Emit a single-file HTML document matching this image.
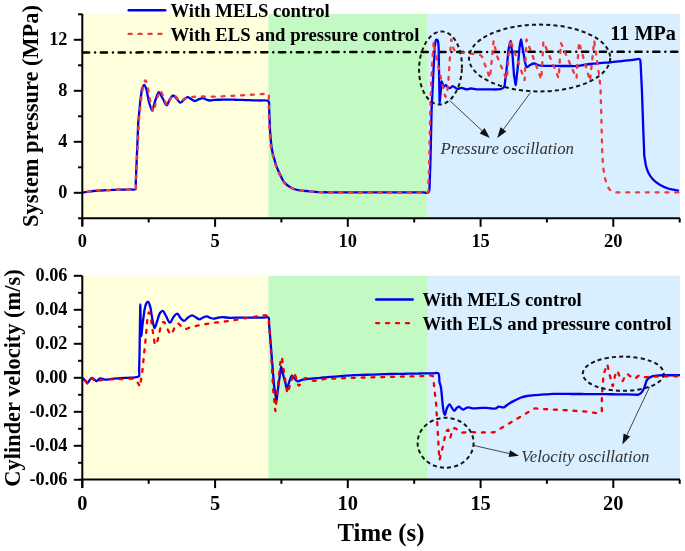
<!DOCTYPE html><html><head><meta charset="utf-8"><style>html,body{margin:0;padding:0;background:#fff;width:685px;height:551px;overflow:hidden}svg{display:block;will-change:transform}text{font-family:"Liberation Serif",serif}</style></head><body>
<svg width="685" height="551" viewBox="0 0 685 551">
<rect x="82.3" y="13.9" width="186.09999999999997" height="204.4" fill="#FFFFDC"/>
<rect x="268.4" y="13.9" width="159.40000000000003" height="204.4" fill="#C3FAC3"/>
<rect x="427.8" y="13.9" width="252.2" height="204.4" fill="#D9EEFE"/>
<rect x="82.3" y="275.7" width="186.09999999999997" height="203.90000000000003" fill="#FFFFDC"/>
<rect x="268.4" y="275.7" width="159.40000000000003" height="203.90000000000003" fill="#C3FAC3"/>
<rect x="427.8" y="275.7" width="252.2" height="203.90000000000003" fill="#D9EEFE"/>
<line x1="83.0" y1="52.45" x2="680" y2="51.65" stroke="#000" stroke-width="2.5" stroke-linecap="round" stroke-dasharray="6.2 5.9 0.01 5.71"/>
<path d="M82.30,192.60 C83.58,192.38 87.70,191.59 90.00,191.30 C91.84,191.07 93.33,191.03 95.00,190.90 C96.67,190.77 98.33,190.61 100.00,190.50 C101.67,190.39 103.33,190.34 105.00,190.27 C106.67,190.19 108.33,190.11 110.00,190.03 C111.67,189.96 113.32,189.86 115.00,189.80 C116.70,189.74 118.42,189.72 120.12,189.68 C121.83,189.63 123.54,189.59 125.25,189.55 C126.96,189.51 128.67,189.47 130.38,189.43 C132.08,189.38 134.57,190.21 135.50,189.30 C136.51,188.31 135.67,185.25 135.75,183.23 C135.83,181.20 135.92,179.18 136.00,177.15 C136.08,175.12 136.17,173.10 136.25,171.07 C136.33,169.05 136.42,166.97 136.50,165.00 C136.58,163.15 136.65,161.40 136.72,159.60 C136.80,157.80 136.87,156.00 136.95,154.20 C137.03,152.40 137.10,150.60 137.18,148.80 C137.25,147.00 137.33,145.20 137.40,143.40 C137.48,141.60 137.55,139.80 137.62,138.00 C137.70,136.20 137.78,134.40 137.85,132.60 C137.93,130.80 138.00,129.00 138.08,127.20 C138.15,125.40 138.18,123.60 138.30,121.80 C138.43,119.99 138.65,118.17 138.83,116.35 C139.00,114.53 139.18,112.72 139.35,110.90 C139.53,109.08 139.70,107.27 139.88,105.45 C140.05,103.63 140.18,101.82 140.40,100.00 C140.62,98.17 140.93,96.33 141.20,94.50 C141.47,92.67 141.43,90.64 142.00,89.00 C142.52,87.51 143.58,84.96 144.30,85.00 C145.09,85.04 145.93,88.23 146.50,90.00 C147.10,91.88 147.33,94.00 147.75,96.00 C148.17,98.00 148.38,99.85 149.00,102.00 C149.76,104.64 151.34,110.62 152.20,110.60 C152.87,110.58 153.30,107.07 153.85,105.30 C154.40,103.53 154.80,101.92 155.50,100.00 C156.37,97.63 157.56,92.30 158.80,92.20 C159.92,92.11 161.26,95.94 162.50,98.00 C163.86,100.28 165.31,105.31 166.60,105.30 C167.80,105.29 168.77,100.73 170.00,99.00 C171.00,97.59 172.06,95.55 173.20,95.50 C174.39,95.45 175.79,97.79 177.00,99.00 C178.19,100.19 179.22,102.64 180.40,102.70 C181.56,102.76 182.75,100.43 184.00,99.50 C185.19,98.61 186.49,97.23 187.70,97.20 C188.82,97.17 189.85,98.39 191.00,99.00 C192.24,99.66 193.57,100.96 194.90,101.00 C196.24,101.04 197.64,99.69 199.00,99.20 C200.28,98.74 201.60,98.02 202.80,98.10 C203.93,98.17 204.86,99.11 206.00,99.50 C207.24,99.92 208.58,100.42 210.00,100.50 C211.57,100.58 213.33,99.93 215.00,99.80 C216.66,99.67 218.33,99.76 220.00,99.73 C221.67,99.71 223.33,99.69 225.00,99.67 C226.67,99.64 228.33,99.59 230.00,99.60 C231.67,99.61 233.33,99.70 235.00,99.75 C236.67,99.80 238.33,99.85 240.00,99.90 C241.67,99.95 243.33,100.00 245.00,100.05 C246.67,100.10 248.33,100.15 250.00,100.20 C251.67,100.25 253.33,100.30 255.00,100.35 C256.67,100.40 258.15,100.45 260.00,100.50 C262.31,100.56 266.44,100.05 267.80,100.70 C268.44,101.01 268.64,101.34 268.90,102.00 C269.40,103.29 269.07,106.33 269.15,108.50 C269.23,110.67 269.32,112.98 269.40,115.00 C269.47,116.78 269.53,118.33 269.60,120.00 C269.67,121.67 269.73,123.33 269.80,125.00 C269.87,126.67 269.89,128.26 270.00,130.00 C270.12,131.91 270.33,134.00 270.50,136.00 C270.67,138.00 270.78,139.86 271.00,142.00 C271.26,144.48 271.50,147.35 272.00,150.00 C272.50,152.68 273.31,155.43 274.00,158.00 C274.65,160.42 275.28,162.88 276.00,165.00 C276.62,166.82 277.24,168.23 278.00,170.00 C278.88,172.04 279.96,174.44 281.00,176.50 C281.97,178.43 282.78,180.42 284.00,182.00 C285.14,183.49 286.44,184.68 288.00,185.80 C289.73,187.05 291.95,188.23 294.00,189.00 C295.95,189.73 297.99,190.07 300.00,190.40 C301.99,190.73 303.92,190.81 306.00,191.00 C308.24,191.21 310.67,191.40 313.00,191.60 C315.33,191.80 317.86,192.10 320.00,192.20 C321.80,192.29 323.33,192.23 325.00,192.25 C326.67,192.27 328.33,192.28 330.00,192.30 C331.67,192.32 333.33,192.33 335.00,192.35 C336.67,192.37 338.32,192.39 340.00,192.40 C341.72,192.41 343.47,192.40 345.21,192.40 C346.94,192.40 348.68,192.40 350.41,192.40 C352.15,192.40 353.88,192.40 355.62,192.40 C357.35,192.40 359.09,192.40 360.82,192.40 C362.56,192.40 364.29,192.40 366.03,192.40 C367.76,192.40 369.50,192.40 371.24,192.40 C372.97,192.40 374.71,192.40 376.44,192.40 C378.18,192.40 379.91,192.40 381.65,192.40 C383.38,192.40 385.12,192.40 386.85,192.40 C388.59,192.40 390.32,192.40 392.06,192.40 C393.79,192.40 395.53,192.40 397.26,192.40 C399.00,192.40 400.74,192.40 402.47,192.40 C404.21,192.40 405.94,192.40 407.68,192.40 C409.41,192.40 411.15,192.40 412.88,192.40 C414.62,192.40 416.35,192.40 418.09,192.40 C419.82,192.40 421.56,192.40 423.29,192.40 C425.03,192.40 427.41,193.34 428.50,192.40 C429.80,191.28 429.39,187.23 429.60,185.00 C429.77,183.18 429.72,181.67 429.78,180.00 C429.84,178.33 429.90,176.67 429.96,175.00 C430.02,173.33 430.08,171.67 430.14,170.00 C430.20,168.33 430.26,166.67 430.32,165.00 C430.38,163.33 430.45,161.67 430.50,160.00 C430.55,158.33 430.57,156.67 430.61,155.00 C430.65,153.33 430.68,151.67 430.72,150.00 C430.76,148.33 430.79,146.67 430.83,145.00 C430.87,143.33 430.90,141.67 430.94,140.00 C430.98,138.33 431.01,136.67 431.05,135.00 C431.09,133.33 431.12,131.67 431.16,130.00 C431.20,128.33 431.23,126.67 431.27,125.00 C431.31,123.33 431.34,121.67 431.38,120.00 C431.42,118.33 431.45,116.67 431.49,115.00 C431.53,113.33 431.54,111.67 431.60,110.00 C431.66,108.33 431.76,106.67 431.84,105.00 C431.92,103.33 432.00,101.67 432.08,100.00 C432.15,98.33 432.23,96.67 432.31,95.00 C432.39,93.33 432.47,91.67 432.55,90.00 C432.63,88.33 432.71,86.67 432.79,85.00 C432.87,83.33 432.95,81.67 433.02,80.00 C433.10,78.33 433.18,76.67 433.26,75.00 C433.34,73.33 433.41,71.67 433.50,70.00 C433.59,68.33 433.70,66.67 433.80,65.00 C433.90,63.33 434.00,61.67 434.10,60.00 C434.20,58.33 434.30,56.67 434.40,55.00 C434.50,53.33 434.60,51.67 434.70,50.00 C434.80,48.33 434.76,46.67 435.00,45.00 C435.25,43.27 435.48,40.19 436.20,39.80 C436.58,39.59 437.23,39.85 437.60,40.30 C438.38,41.25 438.42,44.86 438.60,47.00 C438.76,48.94 438.67,50.73 438.70,52.60 C438.73,54.47 438.77,56.33 438.80,58.20 C438.83,60.07 438.87,61.93 438.90,63.80 C438.93,65.67 438.97,67.53 439.00,69.40 C439.03,71.27 439.07,73.13 439.10,75.00 C439.13,76.87 439.17,78.73 439.20,80.60 C439.23,82.47 439.27,84.33 439.30,86.20 C439.33,88.07 439.37,89.93 439.40,91.80 C439.43,93.67 439.47,95.53 439.50,97.40 C439.53,99.27 439.49,103.00 439.60,103.00 C439.70,103.00 439.93,99.67 440.10,98.00 C440.27,96.33 440.43,94.73 440.60,93.00 C440.78,91.15 440.97,89.17 441.15,87.25 C441.33,85.33 441.23,81.57 441.70,81.50 C442.16,81.43 442.98,86.33 443.90,86.60 C444.52,86.78 445.34,85.11 446.00,85.20 C446.72,85.30 447.21,87.04 448.00,87.50 C448.70,87.91 449.67,88.19 450.40,88.00 C451.18,87.80 451.61,86.29 452.50,86.20 C453.76,86.07 455.81,88.71 457.40,88.90 C458.77,89.06 459.98,87.78 461.40,87.80 C463.02,87.82 464.93,89.32 466.60,89.40 C468.12,89.47 469.46,88.53 471.00,88.50 C472.68,88.47 474.41,89.24 476.30,89.40 C478.43,89.58 480.87,89.40 483.15,89.40 C485.43,89.40 487.68,89.40 490.00,89.40 C492.39,89.40 495.11,89.62 497.30,89.40 C499.13,89.22 501.07,89.04 502.30,88.40 C503.20,87.93 503.83,87.41 504.30,86.50 C504.99,85.17 504.87,82.67 505.15,80.75 C505.43,78.83 505.77,76.85 506.00,75.00 C506.21,73.28 506.33,71.67 506.50,70.00 C506.67,68.33 506.83,66.67 507.00,65.00 C507.17,63.33 507.33,61.67 507.50,60.00 C507.67,58.33 507.83,56.67 508.00,55.00 C508.17,53.33 508.19,51.90 508.50,50.00 C508.93,47.43 510.08,40.98 510.60,41.00 C511.05,41.02 511.23,45.67 511.55,48.00 C511.87,50.33 512.27,52.86 512.50,55.00 C512.69,56.80 512.75,58.33 512.88,60.00 C513.00,61.67 513.12,63.33 513.25,65.00 C513.38,66.67 513.50,68.33 513.62,70.00 C513.75,71.67 513.80,73.33 514.00,75.00 C514.20,76.71 514.57,78.43 514.85,80.15 C515.13,81.87 515.46,85.31 515.70,85.30 C515.94,85.29 516.10,81.90 516.30,80.20 C516.50,78.50 516.70,76.80 516.90,75.10 C517.10,73.40 517.32,71.73 517.50,70.00 C517.69,68.20 517.83,66.33 518.00,64.50 C518.17,62.67 518.33,60.83 518.50,59.00 C518.67,57.17 518.83,55.33 519.00,53.50 C519.17,51.67 519.23,50.03 519.50,48.00 C519.84,45.47 520.54,39.50 521.00,39.50 C521.36,39.50 521.67,43.00 522.00,44.75 C522.33,46.50 522.68,48.19 523.00,50.00 C523.34,51.93 523.67,54.00 524.00,56.00 C524.33,58.00 524.51,60.10 525.00,62.00 C525.46,63.79 525.84,66.78 526.80,67.10 C527.61,67.37 528.84,65.59 530.00,65.00 C531.23,64.38 532.67,63.50 534.00,63.50 C535.33,63.50 536.72,64.63 538.00,65.00 C539.14,65.33 540.02,65.56 541.30,65.70 C543.04,65.90 545.46,65.77 547.53,65.80 C549.61,65.83 551.69,65.87 553.77,65.90 C555.84,65.93 557.97,65.98 560.00,66.00 C561.93,66.02 563.78,66.00 565.67,66.00 C567.56,66.00 569.44,66.00 571.33,66.00 C573.22,66.00 575.05,66.15 577.00,66.00 C579.10,65.84 581.33,65.33 583.50,65.00 C585.67,64.67 587.97,64.24 590.00,64.00 C591.77,63.79 593.33,63.72 595.00,63.58 C596.67,63.43 598.33,63.29 600.00,63.15 C601.67,63.01 603.33,62.87 605.00,62.72 C606.67,62.58 608.26,62.47 610.00,62.30 C611.90,62.12 613.96,61.87 615.94,61.66 C617.92,61.45 619.90,61.23 621.88,61.02 C623.86,60.81 625.84,60.59 627.82,60.38 C629.80,60.17 631.78,59.95 633.76,59.74 C635.74,59.53 638.58,58.27 639.70,59.10 C640.72,59.86 640.41,62.34 640.60,64.00 C640.80,65.70 640.77,67.47 640.86,69.20 C640.95,70.93 641.03,72.67 641.12,74.40 C641.21,76.13 641.29,77.87 641.38,79.60 C641.47,81.33 641.55,83.07 641.64,84.80 C641.73,86.53 641.83,88.28 641.90,90.00 C641.97,91.68 642.02,93.33 642.07,95.00 C642.13,96.67 642.19,98.33 642.25,100.00 C642.31,101.67 642.37,103.33 642.42,105.00 C642.48,106.67 642.54,108.33 642.60,110.00 C642.66,111.67 642.72,113.33 642.77,115.00 C642.83,116.67 642.89,118.33 642.95,120.00 C643.01,121.67 643.07,123.33 643.12,125.00 C643.18,126.67 643.24,128.32 643.30,130.00 C643.36,131.71 643.43,133.45 643.50,135.18 C643.57,136.91 643.63,138.63 643.70,140.36 C643.77,142.09 643.83,143.81 643.90,145.54 C643.97,147.27 644.03,148.99 644.10,150.72 C644.17,152.45 644.12,154.19 644.30,155.90 C644.48,157.60 644.87,159.27 645.15,160.95 C645.43,162.63 645.51,164.16 646.00,166.00 C646.63,168.35 647.66,171.48 648.90,173.80 C650.04,175.93 651.31,177.75 653.00,179.50 C654.87,181.44 657.33,183.31 659.80,184.80 C662.32,186.32 665.50,187.68 668.00,188.50 C669.98,189.14 671.67,189.27 673.50,189.65 C675.33,190.03 678.08,190.61 679.00,190.80" fill="none" stroke="#0000F0" stroke-width="2.3" stroke-linejoin="round"/>
<path d="M82.30,192.60 C83.58,192.38 87.70,191.59 90.00,191.30 C91.84,191.07 93.33,191.03 95.00,190.90 C96.67,190.77 98.33,190.61 100.00,190.50 C101.67,190.39 103.33,190.34 105.00,190.27 C106.67,190.19 108.33,190.11 110.00,190.03 C111.67,189.96 113.32,189.86 115.00,189.80 C116.70,189.74 118.42,189.72 120.12,189.68 C121.83,189.63 123.54,189.59 125.25,189.55 C126.96,189.51 128.67,189.47 130.38,189.43 C132.08,189.38 134.57,190.20 135.50,189.30 C136.49,188.33 135.70,185.39 135.80,183.44 C135.90,181.49 136.00,179.53 136.10,177.58 C136.20,175.63 136.30,173.67 136.40,171.72 C136.50,169.77 136.60,167.81 136.70,165.86 C136.80,163.91 136.91,161.88 137.00,160.00 C137.09,158.27 137.17,156.67 137.25,155.00 C137.33,153.33 137.42,151.67 137.50,150.00 C137.58,148.33 137.67,146.67 137.75,145.00 C137.83,143.33 137.92,141.67 138.00,140.00 C138.08,138.33 138.17,136.67 138.25,135.00 C138.33,133.33 138.42,131.67 138.50,130.00 C138.58,128.33 138.67,126.67 138.75,125.00 C138.83,123.33 138.88,121.67 139.00,120.00 C139.13,118.33 139.33,116.67 139.50,115.00 C139.67,113.33 139.83,111.67 140.00,110.00 C140.17,108.33 140.33,106.67 140.50,105.00 C140.67,103.33 140.79,101.66 141.00,100.00 C141.21,98.33 141.51,96.67 141.77,95.00 C142.02,93.33 142.28,91.67 142.53,90.00 C142.79,88.33 142.82,86.60 143.30,85.00 C143.78,83.40 144.73,80.38 145.40,80.40 C146.13,80.43 146.95,84.00 147.50,86.00 C148.10,88.18 148.33,90.67 148.75,93.00 C149.17,95.33 149.48,97.78 150.00,100.00 C150.49,102.08 151.17,103.97 151.75,105.95 C152.33,107.93 152.96,111.91 153.50,111.90 C154.04,111.89 154.50,107.93 155.00,105.95 C155.50,103.97 155.93,101.86 156.50,100.00 C157.02,98.31 157.67,96.83 158.25,95.25 C158.83,93.67 159.24,90.55 160.00,90.50 C160.91,90.44 162.35,94.68 163.50,97.00 C164.78,99.58 166.06,105.27 167.30,105.30 C168.39,105.32 169.31,100.83 170.50,99.00 C171.54,97.40 172.76,94.85 173.90,94.80 C174.93,94.75 175.94,96.92 177.00,98.00 C178.10,99.12 179.20,101.28 180.40,101.40 C181.54,101.51 182.59,99.66 184.00,99.00 C185.70,98.20 188.07,97.57 190.00,97.20 C191.73,96.87 193.33,96.90 195.00,96.75 C196.67,96.60 198.33,96.33 200.00,96.30 C201.67,96.27 203.33,96.47 205.00,96.55 C206.67,96.63 208.33,96.79 210.00,96.80 C211.67,96.81 213.33,96.67 215.00,96.60 C216.67,96.53 218.33,96.47 220.00,96.40 C221.67,96.33 223.33,96.27 225.00,96.20 C226.67,96.13 228.33,96.08 230.00,96.00 C231.67,95.92 233.33,95.80 235.00,95.70 C236.67,95.60 238.33,95.50 240.00,95.40 C241.67,95.30 243.33,95.20 245.00,95.10 C246.67,95.00 248.25,94.90 250.00,94.80 C251.94,94.69 254.09,94.58 256.13,94.47 C258.18,94.36 260.22,94.24 262.27,94.13 C264.31,94.02 267.33,92.83 268.40,93.80 C269.48,94.77 268.64,98.04 268.70,100.00 C268.75,101.76 268.74,103.33 268.77,105.00 C268.79,106.67 268.81,108.33 268.83,110.00 C268.86,111.67 268.86,113.33 268.90,115.00 C268.94,116.67 269.03,118.33 269.10,120.00 C269.17,121.67 269.23,123.33 269.30,125.00 C269.37,126.67 269.39,128.26 269.50,130.00 C269.62,131.91 269.83,134.00 270.00,136.00 C270.17,138.00 270.28,139.86 270.50,142.00 C270.76,144.48 271.00,147.35 271.50,150.00 C272.00,152.68 272.81,155.43 273.50,158.00 C274.15,160.42 274.78,162.88 275.50,165.00 C276.12,166.82 276.74,168.23 277.50,170.00 C278.38,172.04 279.46,174.44 280.50,176.50 C281.47,178.43 282.28,180.42 283.50,182.00 C284.64,183.49 285.94,184.68 287.50,185.80 C289.23,187.05 291.40,188.23 293.50,189.00 C295.57,189.76 297.87,190.06 300.00,190.40 C302.03,190.72 303.92,190.81 306.00,191.00 C308.24,191.21 310.67,191.40 313.00,191.60 C315.33,191.80 317.86,192.10 320.00,192.20 C321.80,192.29 323.33,192.23 325.00,192.25 C326.67,192.27 328.33,192.28 330.00,192.30 C331.67,192.32 333.33,192.33 335.00,192.35 C336.67,192.37 338.32,192.39 340.00,192.40 C341.71,192.41 343.45,192.40 345.18,192.40 C346.90,192.40 348.63,192.40 350.35,192.40 C352.08,192.40 353.80,192.40 355.53,192.40 C357.25,192.40 358.98,192.40 360.71,192.40 C362.43,192.40 364.16,192.40 365.88,192.40 C367.61,192.40 369.33,192.40 371.06,192.40 C372.78,192.40 374.51,192.40 376.24,192.40 C377.96,192.40 379.69,192.40 381.41,192.40 C383.14,192.40 384.86,192.40 386.59,192.40 C388.31,192.40 390.04,192.40 391.76,192.40 C393.49,192.40 395.22,192.40 396.94,192.40 C398.67,192.40 400.39,192.40 402.12,192.40 C403.84,192.40 405.57,192.40 407.29,192.40 C409.02,192.40 410.75,192.40 412.47,192.40 C414.20,192.40 415.92,192.40 417.65,192.40 C419.37,192.40 421.10,192.40 422.82,192.40 C424.55,192.40 427.08,193.28 428.00,192.40 C428.96,191.49 428.17,188.67 428.25,186.80 C428.33,184.93 428.42,183.07 428.50,181.20 C428.58,179.33 428.67,177.47 428.75,175.60 C428.83,173.73 428.94,171.81 429.00,170.00 C429.06,168.29 429.07,166.67 429.10,165.00 C429.13,163.33 429.17,161.67 429.20,160.00 C429.23,158.33 429.27,156.67 429.30,155.00 C429.33,153.33 429.37,151.67 429.40,150.00 C429.43,148.33 429.47,146.67 429.50,145.00 C429.53,143.33 429.57,141.67 429.60,140.00 C429.63,138.33 429.67,136.67 429.70,135.00 C429.73,133.33 429.77,131.67 429.80,130.00 C429.83,128.33 429.87,126.67 429.90,125.00 C429.93,123.33 429.97,121.67 430.00,120.00 C430.03,118.33 430.07,116.67 430.10,115.00 C430.13,113.33 430.15,111.67 430.20,110.00 C430.25,108.33 430.33,106.67 430.40,105.00 C430.47,103.33 430.53,101.67 430.60,100.00 C430.67,98.33 430.73,96.67 430.80,95.00 C430.87,93.33 430.93,91.67 431.00,90.00 C431.07,88.33 431.13,86.67 431.20,85.00 C431.27,83.33 431.33,81.67 431.40,80.00 C431.47,78.33 431.53,76.67 431.60,75.00 C431.67,73.33 431.73,71.67 431.80,70.00 C431.87,68.33 431.90,66.73 432.00,65.00 C432.11,63.13 432.30,61.10 432.45,59.15 C432.60,57.20 432.75,55.25 432.90,53.30 C433.05,51.35 433.20,49.40 433.35,47.45 C433.50,45.50 433.56,41.61 433.80,41.60 C434.06,41.59 434.53,46.07 434.90,48.30 C435.27,50.53 435.62,52.93 436.00,55.00 C436.33,56.79 436.67,58.33 437.00,60.00 C437.33,61.67 437.59,63.11 438.00,65.00 C438.54,67.48 439.42,71.03 440.00,73.60 C440.47,75.69 440.83,77.40 441.25,79.30 C441.67,81.20 442.06,83.09 442.50,85.00 C442.95,86.95 443.47,88.93 443.95,90.90 C444.43,92.87 444.86,96.78 445.40,96.80 C445.89,96.82 446.56,93.90 447.00,92.00 C447.61,89.35 448.02,85.13 448.30,82.30 C448.52,80.12 448.55,78.42 448.68,76.47 C448.80,74.53 448.93,72.59 449.05,70.65 C449.18,68.71 449.30,66.77 449.43,64.83 C449.55,62.88 449.66,61.00 449.80,59.00 C449.94,56.88 450.11,54.64 450.27,52.47 C450.42,50.29 450.58,48.11 450.73,45.93 C450.89,43.76 450.86,39.43 451.20,39.40 C451.58,39.37 452.24,44.91 453.00,47.00 C453.58,48.58 454.06,50.22 455.00,51.00 C455.76,51.63 456.61,51.53 457.80,51.80 C459.81,52.26 463.21,52.84 466.00,53.20 C468.87,53.58 472.10,53.47 474.80,54.00 C477.18,54.46 479.74,54.48 481.40,56.00 C483.36,57.80 483.92,62.25 485.00,65.00 C485.92,67.33 486.67,69.30 487.50,71.45 C488.33,73.60 489.49,77.97 490.00,77.90 C490.48,77.84 490.40,73.92 490.60,71.93 C490.80,69.94 491.00,67.96 491.20,65.97 C491.40,63.98 491.60,62.02 491.80,60.00 C492.01,57.91 492.22,55.76 492.43,53.63 C492.64,51.51 492.86,49.39 493.07,47.27 C493.28,45.14 493.37,40.92 493.70,40.90 C494.05,40.88 494.67,45.50 495.15,47.80 C495.63,50.10 495.96,52.54 496.60,54.70 C497.20,56.70 498.07,58.47 498.80,60.35 C499.53,62.23 500.20,64.04 501.00,66.00 C501.88,68.15 502.93,70.47 503.90,72.70 C504.87,74.93 506.24,79.49 506.80,79.40 C507.33,79.31 507.13,75.09 507.30,72.93 C507.47,70.78 507.63,68.62 507.80,66.47 C507.97,64.31 508.13,62.03 508.30,60.00 C508.45,58.19 508.60,56.58 508.75,54.88 C508.90,53.17 509.05,51.46 509.20,49.75 C509.35,48.04 509.50,46.33 509.65,44.62 C509.80,42.92 509.73,39.55 510.10,39.50 C510.48,39.45 511.31,42.89 511.91,44.59 C512.52,46.28 513.12,47.98 513.73,49.67 C514.33,51.37 514.93,53.07 515.54,54.76 C516.14,56.46 516.75,58.15 517.35,59.85 C517.95,61.55 518.56,63.24 519.16,64.94 C519.77,66.63 520.37,68.33 520.98,70.03 C521.58,71.72 522.18,73.42 522.79,75.11 C523.39,76.81 524.26,80.25 524.60,80.20 C524.93,80.15 524.76,76.81 524.84,75.11 C524.92,73.42 525.00,71.72 525.08,70.03 C525.15,68.33 525.23,66.63 525.31,64.94 C525.39,63.24 525.47,61.55 525.55,59.85 C525.63,58.15 525.71,56.46 525.79,54.76 C525.87,53.07 525.95,51.37 526.02,49.67 C526.10,47.98 526.18,46.28 526.26,44.59 C526.34,42.89 526.16,39.55 526.50,39.50 C526.85,39.45 527.73,42.82 528.35,44.49 C528.97,46.15 529.58,47.81 530.20,49.48 C530.82,51.14 531.43,52.80 532.05,54.46 C532.67,56.13 533.28,57.79 533.90,59.45 C534.52,61.11 535.13,62.77 535.75,64.44 C536.37,66.10 536.98,67.76 537.60,69.43 C538.22,71.09 538.83,72.75 539.45,74.41 C540.07,76.08 540.94,79.45 541.30,79.40 C541.66,79.35 541.51,75.81 541.61,74.01 C541.72,72.22 541.82,70.42 541.93,68.63 C542.03,66.83 542.14,65.04 542.24,63.24 C542.35,61.45 542.45,59.65 542.56,57.86 C542.66,56.06 542.77,54.27 542.87,52.47 C542.98,50.68 543.08,48.88 543.19,47.09 C543.29,45.29 543.10,41.77 543.50,41.70 C543.91,41.63 544.95,45.16 545.67,46.89 C546.40,48.61 547.12,50.34 547.84,52.07 C548.57,53.80 549.29,55.53 550.01,57.26 C550.74,58.99 551.46,60.71 552.19,62.44 C552.91,64.17 553.63,65.90 554.36,67.63 C555.08,69.36 555.80,71.09 556.53,72.81 C557.25,74.54 558.28,78.07 558.70,78.00 C559.13,77.93 558.94,74.12 559.07,72.18 C559.19,70.24 559.31,68.31 559.43,66.37 C559.56,64.43 559.68,62.49 559.80,60.55 C559.92,58.61 560.04,56.67 560.17,54.73 C560.29,52.79 560.41,50.86 560.53,48.92 C560.66,46.98 560.45,43.18 560.90,43.10 C561.33,43.02 562.38,46.45 563.11,48.13 C563.85,49.80 564.59,51.48 565.33,53.16 C566.07,54.83 566.80,56.51 567.54,58.19 C568.28,59.86 569.02,61.54 569.76,63.21 C570.50,64.89 571.23,66.57 571.97,68.24 C572.71,69.92 573.45,71.60 574.19,73.27 C574.92,74.95 575.97,78.37 576.40,78.30 C576.82,78.23 576.65,74.85 576.77,73.13 C576.90,71.40 577.02,69.68 577.14,67.96 C577.27,66.23 577.39,64.51 577.51,62.79 C577.64,61.06 577.76,59.34 577.89,57.61 C578.01,55.89 578.13,54.17 578.26,52.44 C578.38,50.72 578.50,49.00 578.63,47.27 C578.75,45.55 578.70,42.13 579.00,42.10 C579.29,42.07 579.92,45.34 580.38,46.96 C580.83,48.58 581.29,50.20 581.75,51.83 C582.21,53.45 582.67,55.07 583.12,56.69 C583.58,58.31 584.04,59.93 584.50,61.55 C584.96,63.17 585.42,64.79 585.88,66.41 C586.33,68.03 586.79,69.65 587.25,71.28 C587.71,72.90 588.17,74.52 588.62,76.14 C589.08,77.76 589.68,81.03 590.00,81.00 C590.32,80.97 590.35,77.65 590.52,75.97 C590.70,74.30 590.88,72.62 591.05,70.95 C591.23,69.28 591.40,67.60 591.58,65.92 C591.75,64.25 591.92,62.57 592.10,60.90 C592.27,59.22 592.45,57.55 592.62,55.88 C592.80,54.20 592.98,52.52 593.15,50.85 C593.33,49.17 593.50,47.50 593.68,45.82 C593.85,44.15 593.99,40.80 594.20,40.80 C594.42,40.80 594.70,44.34 594.96,46.11 C595.21,47.89 595.46,49.66 595.71,51.43 C595.97,53.20 596.22,54.97 596.47,56.74 C596.72,58.51 596.98,60.29 597.23,62.06 C597.48,63.83 597.73,65.60 597.99,67.37 C598.24,69.14 598.49,70.91 598.74,72.69 C599.00,74.46 599.29,76.25 599.50,78.00 C599.70,79.69 599.83,81.33 600.00,83.00 C600.17,84.67 600.38,86.26 600.50,88.00 C600.63,89.91 600.63,92.00 600.70,94.00 C600.77,96.00 600.84,98.09 600.90,100.00 C600.95,101.74 600.98,103.33 601.03,105.00 C601.07,106.67 601.11,108.33 601.15,110.00 C601.20,111.67 601.24,113.33 601.28,115.00 C601.32,116.67 601.37,118.33 601.41,120.00 C601.45,121.67 601.49,123.33 601.54,125.00 C601.58,126.67 601.62,128.33 601.66,130.00 C601.71,131.67 601.75,133.33 601.79,135.00 C601.83,136.67 601.88,138.33 601.92,140.00 C601.96,141.67 602.00,143.33 602.05,145.00 C602.09,146.67 602.13,148.33 602.17,150.00 C602.22,151.67 602.21,153.23 602.30,155.00 C602.40,157.03 602.63,159.33 602.80,161.50 C602.97,163.67 603.05,165.98 603.30,168.00 C603.52,169.78 603.87,171.33 604.15,173.00 C604.43,174.67 604.56,176.15 605.00,178.00 C605.57,180.37 606.37,183.75 607.50,186.00 C608.45,187.89 609.52,189.75 611.00,190.80 C612.39,191.78 614.29,192.05 616.00,192.30 C617.73,192.56 619.56,192.31 621.33,192.31 C623.11,192.31 624.89,192.31 626.67,192.32 C628.44,192.32 630.22,192.32 632.00,192.33 C633.78,192.33 635.56,192.33 637.33,192.33 C639.11,192.34 640.89,192.34 642.67,192.34 C644.44,192.34 646.22,192.35 648.00,192.35 C649.78,192.35 651.56,192.36 653.33,192.36 C655.11,192.36 656.89,192.36 658.67,192.37 C660.44,192.37 662.22,192.37 664.00,192.38 C665.78,192.38 667.56,192.38 669.33,192.38 C671.11,192.39 672.89,192.39 674.67,192.39 C676.44,192.39 679.11,192.40 680.00,192.40" fill="none" stroke="#EE3A3A" stroke-width="2.3" stroke-linejoin="round" stroke-linecap="round" stroke-dasharray="3.0 6.8" stroke-dashoffset="4.5"/>
<path d="M82.30,377.60 C82.67,378.00 83.68,379.21 84.50,380.00 C85.42,380.88 86.69,382.68 87.60,382.60 C88.44,382.53 89.06,380.82 89.80,380.00 C90.50,379.23 91.14,377.87 91.90,377.80 C92.64,377.73 93.51,378.94 94.30,379.50 C95.07,380.04 95.88,381.13 96.60,381.10 C97.28,381.07 97.85,379.98 98.50,379.50 C99.12,379.05 99.59,378.41 100.40,378.30 C101.59,378.14 103.41,379.58 105.10,379.70 C107.01,379.84 109.05,379.04 111.30,378.80 C113.95,378.52 117.22,378.37 120.00,378.20 C122.57,378.04 124.92,377.95 127.40,377.80 C129.92,377.65 132.88,377.63 135.00,377.30 C136.56,377.06 138.28,377.21 139.00,376.30 C139.82,375.28 139.08,372.79 139.12,371.04 C139.16,369.29 139.20,367.53 139.24,365.78 C139.28,364.03 139.32,362.27 139.36,360.52 C139.40,358.77 139.44,357.01 139.48,355.26 C139.52,353.51 139.57,351.73 139.60,350.00 C139.63,348.31 139.64,346.67 139.67,345.00 C139.69,343.33 139.71,341.67 139.73,340.00 C139.76,338.33 139.78,336.67 139.80,335.00 C139.82,333.33 139.84,331.67 139.87,330.00 C139.89,328.33 139.91,326.67 139.93,325.00 C139.96,323.33 139.97,321.68 140.00,320.00 C140.03,318.29 140.07,316.56 140.10,314.83 C140.13,313.11 140.17,311.39 140.20,309.67 C140.23,307.94 140.26,304.50 140.30,304.50 C140.34,304.50 140.38,307.92 140.43,309.62 C140.47,311.33 140.51,313.04 140.55,314.75 C140.59,316.46 140.63,318.17 140.68,319.88 C140.72,321.58 140.73,323.26 140.80,325.00 C140.87,326.80 141.00,328.67 141.10,330.50 C141.20,332.33 141.26,336.00 141.40,336.00 C141.54,336.00 141.77,332.33 141.95,330.50 C142.13,328.67 142.29,326.79 142.50,325.00 C142.70,323.29 142.94,321.67 143.17,320.00 C143.39,318.33 143.61,316.67 143.83,315.00 C144.06,313.33 144.13,311.79 144.50,310.00 C144.95,307.85 145.58,304.30 146.50,303.00 C146.99,302.30 147.68,301.64 148.20,301.80 C149.12,302.09 149.95,305.92 150.50,308.00 C151.03,309.99 151.17,312.00 151.50,314.00 C151.83,316.00 152.05,317.86 152.50,320.00 C153.03,322.51 153.77,328.06 154.60,328.10 C155.44,328.14 156.57,322.60 157.50,320.00 C158.36,317.58 158.85,314.55 160.00,313.00 C160.79,311.93 161.92,310.74 162.80,310.90 C163.96,311.11 164.88,314.18 166.00,316.00 C167.27,318.07 168.70,322.69 170.00,322.70 C171.20,322.71 172.18,318.58 173.50,317.00 C174.65,315.62 176.15,313.48 177.30,313.60 C178.49,313.73 179.31,316.75 180.50,318.00 C181.60,319.15 182.89,320.92 184.10,320.90 C185.38,320.88 186.61,318.43 188.00,317.50 C189.32,316.61 190.84,315.37 192.20,315.40 C193.51,315.43 194.76,316.82 196.00,317.50 C197.19,318.15 198.33,319.40 199.50,319.40 C200.67,319.40 201.78,318.02 203.00,317.50 C204.22,316.98 205.56,316.22 206.80,316.30 C208.06,316.38 209.26,317.60 210.50,318.00 C211.66,318.38 212.80,318.73 214.00,318.70 C215.29,318.67 216.64,317.95 218.00,317.70 C219.38,317.45 220.58,317.23 222.20,317.20 C224.40,317.15 227.34,317.73 230.00,317.80 C232.77,317.87 236.04,317.63 238.50,317.60 C240.39,317.58 241.83,317.60 243.50,317.60 C245.17,317.60 246.83,317.60 248.50,317.60 C250.17,317.60 251.83,317.60 253.50,317.60 C255.17,317.60 256.83,317.60 258.50,317.60 C260.17,317.60 261.83,317.60 263.50,317.60 C265.17,317.60 267.56,316.74 268.50,317.60 C269.51,318.53 268.83,321.47 269.00,323.40 C269.17,325.33 269.33,327.27 269.50,329.20 C269.67,331.13 269.85,333.14 270.00,335.00 C270.14,336.73 270.27,338.33 270.40,340.00 C270.53,341.67 270.67,343.33 270.80,345.00 C270.93,346.67 271.07,348.33 271.20,350.00 C271.33,351.67 271.47,353.33 271.60,355.00 C271.73,356.67 271.87,358.33 272.00,360.00 C272.13,361.67 272.27,363.33 272.40,365.00 C272.53,366.67 272.67,368.33 272.80,370.00 C272.93,371.67 273.07,373.33 273.20,375.00 C273.33,376.67 273.47,378.33 273.60,380.00 C273.73,381.67 273.80,383.31 274.00,385.00 C274.21,386.75 274.56,388.56 274.83,390.33 C275.11,392.11 275.39,393.89 275.67,395.67 C275.94,397.44 276.25,401.00 276.50,401.00 C276.75,401.00 276.94,397.44 277.17,395.67 C277.39,393.89 277.61,392.11 277.83,390.33 C278.06,388.56 278.25,386.84 278.50,385.00 C278.76,383.03 279.08,380.93 279.37,378.90 C279.66,376.87 279.94,374.83 280.23,372.80 C280.52,370.77 280.71,366.72 281.10,366.70 C281.48,366.68 282.07,370.47 282.55,372.35 C283.03,374.23 283.51,376.16 284.00,378.00 C284.46,379.76 284.93,381.43 285.40,383.15 C285.87,384.87 286.21,388.27 286.80,388.30 C287.52,388.33 288.59,383.24 289.50,381.00 C290.29,379.05 290.95,375.75 291.90,375.60 C292.67,375.48 293.57,377.57 294.50,378.50 C295.46,379.47 296.39,381.05 297.60,381.30 C298.87,381.56 300.52,380.15 302.00,379.80 C303.45,379.46 304.77,379.39 306.40,379.20 C308.42,378.96 310.93,378.73 313.20,378.50 C315.47,378.27 317.89,377.99 320.00,377.80 C321.84,377.63 323.44,377.52 325.17,377.38 C326.89,377.24 328.61,377.11 330.33,376.97 C332.06,376.83 333.78,376.69 335.50,376.55 C337.22,376.41 338.94,376.27 340.67,376.13 C342.39,375.99 344.11,375.86 345.83,375.72 C347.56,375.58 349.24,375.40 351.00,375.30 C352.82,375.20 354.71,375.18 356.57,375.11 C358.43,375.05 360.29,374.99 362.14,374.93 C364.00,374.87 365.86,374.80 367.71,374.74 C369.57,374.68 371.43,374.62 373.29,374.56 C375.14,374.50 377.00,374.43 378.86,374.37 C380.71,374.31 382.57,374.25 384.43,374.19 C386.29,374.12 388.16,374.05 390.00,374.00 C391.80,373.95 393.57,373.94 395.36,373.91 C397.14,373.88 398.93,373.85 400.71,373.82 C402.50,373.79 404.28,373.76 406.07,373.73 C407.85,373.70 409.64,373.67 411.42,373.64 C413.21,373.61 414.99,373.59 416.78,373.56 C418.56,373.53 420.35,373.50 422.13,373.47 C423.92,373.44 425.70,373.41 427.49,373.38 C429.27,373.35 431.06,373.32 432.84,373.29 C434.63,373.26 437.21,372.49 438.20,373.20 C438.94,373.73 438.89,374.88 439.10,376.00 C439.41,377.61 439.18,380.16 439.50,382.00 C439.79,383.62 440.46,384.85 440.80,386.50 C441.20,388.45 441.38,390.92 441.60,393.00 C441.80,394.91 441.93,396.67 442.10,398.50 C442.27,400.33 442.38,402.03 442.60,404.00 C442.86,406.31 443.09,409.51 443.60,411.50 C443.95,412.88 444.44,414.92 444.90,414.90 C445.55,414.88 446.08,409.89 447.00,408.00 C447.73,406.51 448.76,404.28 449.60,404.30 C450.43,404.32 451.18,406.87 452.00,408.00 C452.75,409.02 453.52,410.79 454.30,410.80 C455.09,410.81 455.84,408.71 456.70,408.00 C457.43,407.40 458.25,406.64 459.00,406.70 C459.79,406.76 460.51,408.01 461.30,408.50 C462.04,408.96 462.84,409.65 463.60,409.60 C464.41,409.54 465.18,408.39 466.00,408.00 C466.75,407.65 467.37,407.34 468.30,407.30 C469.68,407.24 471.56,408.27 473.50,408.40 C475.91,408.56 479.07,407.84 481.70,407.80 C484.12,407.76 486.37,408.00 488.70,408.10 C491.03,408.20 493.92,408.84 495.70,408.40 C496.93,408.09 497.44,406.95 498.60,406.70 C500.06,406.39 502.50,407.65 503.90,407.30 C504.98,407.03 505.59,406.14 506.50,405.50 C507.51,404.78 508.43,403.98 509.70,403.20 C511.38,402.16 513.84,400.99 515.80,400.00 C517.59,399.10 519.17,398.16 521.00,397.50 C522.90,396.82 524.91,396.38 527.00,396.00 C529.23,395.60 531.64,395.42 534.00,395.20 C536.41,394.98 538.97,394.86 541.30,394.70 C543.44,394.56 545.40,394.43 547.45,394.30 C549.50,394.17 551.64,393.96 553.60,393.90 C555.39,393.85 557.04,393.91 558.76,393.92 C560.47,393.93 562.19,393.94 563.91,393.94 C565.63,393.95 567.35,393.96 569.07,393.97 C570.79,393.97 572.50,393.98 574.22,393.99 C575.94,394.00 577.66,394.00 579.38,394.01 C581.10,394.02 582.81,394.03 584.53,394.03 C586.25,394.04 587.97,394.05 589.69,394.06 C591.41,394.06 593.13,394.07 594.84,394.08 C596.56,394.09 598.25,394.08 600.00,394.10 C601.80,394.12 603.66,394.15 605.49,394.17 C607.31,394.20 609.14,394.22 610.97,394.24 C612.80,394.27 614.63,394.29 616.46,394.31 C618.29,394.34 620.11,394.36 621.94,394.39 C623.77,394.41 625.60,394.43 627.43,394.46 C629.26,394.48 631.09,394.50 632.91,394.53 C634.74,394.55 636.95,395.00 638.40,394.60 C639.48,394.30 640.19,393.79 641.00,393.00 C642.09,391.94 643.07,390.25 644.00,388.40 C645.22,385.97 645.66,381.57 647.30,379.50 C648.57,377.89 650.21,377.01 652.10,376.30 C654.33,375.47 657.66,375.45 660.00,375.30 C661.85,375.18 663.33,375.28 665.00,375.27 C666.67,375.27 668.33,375.26 670.00,375.25 C671.67,375.24 673.33,375.23 675.00,375.23 C676.67,375.22 679.17,375.20 680.00,375.20" fill="none" stroke="#0000F0" stroke-width="2.3" stroke-linejoin="round"/>
<path d="M82.30,375.90 C82.75,376.58 84.09,378.70 85.00,380.00 C85.86,381.23 86.80,383.50 87.60,383.50 C88.28,383.50 88.87,381.86 89.50,381.00 C90.14,380.12 90.63,378.45 91.40,378.30 C92.14,378.16 93.08,379.46 94.00,380.00 C94.97,380.57 96.07,381.54 97.10,381.60 C98.07,381.66 98.89,380.81 100.00,380.50 C101.43,380.10 103.33,379.77 105.00,379.60 C106.66,379.43 108.33,379.50 110.00,379.45 C111.67,379.40 113.33,379.35 115.00,379.30 C116.67,379.25 118.33,379.20 120.00,379.15 C121.67,379.10 123.18,379.05 125.00,379.00 C127.18,378.94 130.38,378.51 132.20,378.80 C133.37,378.99 134.20,379.31 135.00,379.80 C135.75,380.26 136.31,380.92 136.90,381.60 C137.52,382.32 138.10,383.15 138.60,384.00 C139.10,384.85 139.57,386.75 139.90,386.70 C140.33,386.64 140.43,383.37 140.70,381.70 C140.97,380.03 141.23,378.37 141.50,376.70 C141.77,375.03 142.08,373.41 142.30,371.70 C142.54,369.90 142.68,367.99 142.87,366.13 C143.06,364.28 143.24,362.42 143.43,360.57 C143.62,358.71 143.81,356.86 144.00,355.00 C144.19,353.14 144.38,351.29 144.57,349.43 C144.76,347.58 144.94,345.72 145.13,343.87 C145.32,342.01 145.52,340.20 145.70,338.30 C145.89,336.31 146.06,334.23 146.23,332.20 C146.41,330.17 146.59,328.13 146.77,326.10 C146.94,324.07 146.97,322.14 147.30,320.00 C147.67,317.57 148.33,312.36 149.00,312.30 C149.48,312.25 150.20,314.58 150.60,316.00 C151.09,317.76 151.17,320.10 151.45,322.15 C151.73,324.20 152.00,326.36 152.30,328.30 C152.57,330.05 152.86,331.63 153.13,333.30 C153.41,334.97 153.69,336.63 153.97,338.30 C154.24,339.97 154.20,342.18 154.80,343.30 C155.19,344.04 155.97,344.92 156.40,344.80 C157.06,344.61 157.27,341.53 157.70,339.90 C158.13,338.27 158.54,336.89 159.00,335.00 C159.62,332.46 160.01,328.37 161.00,326.00 C161.73,324.26 162.79,321.76 163.70,321.80 C164.78,321.84 165.83,325.92 167.00,328.00 C168.22,330.16 169.64,334.52 170.90,334.50 C172.14,334.48 173.19,329.90 174.50,328.00 C175.65,326.33 177.00,323.70 178.20,323.60 C179.16,323.52 179.97,325.17 181.00,326.00 C182.20,326.96 183.52,328.74 185.00,329.00 C186.51,329.27 188.10,328.02 190.00,327.50 C192.47,326.83 195.94,325.95 198.60,325.40 C200.87,324.93 202.83,324.67 204.95,324.30 C207.07,323.93 209.21,323.51 211.30,323.20 C213.33,322.89 215.32,322.69 217.33,322.43 C219.34,322.18 221.36,321.92 223.37,321.67 C225.38,321.41 227.39,321.20 229.40,320.90 C231.42,320.60 233.44,320.21 235.47,319.87 C237.49,319.52 239.51,319.18 241.53,318.83 C243.56,318.49 245.63,318.11 247.60,317.80 C249.46,317.50 251.22,317.27 253.03,317.00 C254.84,316.73 256.66,316.47 258.47,316.20 C260.28,315.93 262.17,315.36 263.90,315.40 C265.50,315.44 267.61,315.30 268.50,316.30 C269.53,317.45 268.83,320.46 269.00,322.53 C269.17,324.61 269.33,326.69 269.50,328.77 C269.67,330.84 269.86,333.04 270.00,335.00 C270.12,336.76 270.20,338.33 270.30,340.00 C270.40,341.67 270.50,343.33 270.60,345.00 C270.70,346.67 270.80,348.33 270.90,350.00 C271.00,351.67 271.10,353.33 271.20,355.00 C271.30,356.67 271.40,358.33 271.50,360.00 C271.60,361.67 271.69,363.33 271.78,365.00 C271.88,366.67 271.97,368.33 272.07,370.00 C272.16,371.67 272.26,373.33 272.35,375.00 C272.44,376.67 272.54,378.33 272.63,380.00 C272.73,381.67 272.82,383.33 272.92,385.00 C273.01,386.67 273.06,388.31 273.20,390.00 C273.34,391.74 273.57,393.53 273.75,395.30 C273.93,397.07 274.12,398.83 274.30,400.60 C274.48,402.37 274.67,404.13 274.85,405.90 C275.03,407.67 275.22,411.20 275.40,411.20 C275.58,411.20 275.75,407.71 275.92,405.96 C276.09,404.21 276.27,402.47 276.44,400.72 C276.61,398.97 276.79,397.23 276.96,395.48 C277.13,393.73 277.31,391.99 277.48,390.24 C277.65,388.49 277.83,386.73 278.00,385.00 C278.17,383.31 278.33,381.67 278.50,380.00 C278.67,378.33 278.83,376.67 279.00,375.00 C279.17,373.33 279.33,371.67 279.50,370.00 C279.67,368.33 279.71,366.84 280.00,365.00 C280.37,362.68 281.22,357.19 281.70,357.20 C282.16,357.21 282.47,362.13 282.85,364.60 C283.23,367.07 283.64,369.73 284.00,372.00 C284.30,373.93 284.57,375.57 284.85,377.35 C285.13,379.13 285.42,380.92 285.70,382.70 C285.98,384.48 286.27,386.27 286.55,388.05 C286.83,389.83 286.94,393.37 287.40,393.40 C287.98,393.44 289.20,387.56 290.00,385.00 C290.68,382.83 291.27,381.00 291.90,379.00 C292.53,377.00 293.04,373.04 293.80,373.00 C294.57,372.96 295.68,376.93 296.50,379.00 C297.35,381.15 297.81,385.57 298.80,385.70 C299.69,385.82 300.85,382.32 302.00,381.00 C303.00,379.85 303.80,378.39 305.20,378.10 C307.11,377.71 310.29,380.45 312.80,380.70 C315.15,380.93 317.47,380.07 319.80,379.75 C322.13,379.43 324.60,378.99 326.80,378.80 C328.75,378.63 330.49,378.67 332.33,378.60 C334.18,378.53 336.02,378.47 337.87,378.40 C339.71,378.33 341.56,378.27 343.40,378.20 C345.24,378.13 347.09,378.07 348.93,378.00 C350.78,377.93 352.62,377.87 354.47,377.80 C356.31,377.73 358.20,377.65 360.00,377.60 C361.71,377.55 363.33,377.52 365.00,377.48 C366.67,377.43 368.33,377.39 370.00,377.35 C371.67,377.31 373.33,377.27 375.00,377.23 C376.67,377.18 378.33,377.14 380.00,377.10 C381.67,377.06 383.33,377.02 385.00,376.98 C386.67,376.93 388.33,376.89 390.00,376.85 C391.67,376.81 393.33,376.77 395.00,376.73 C396.67,376.68 398.30,376.64 400.00,376.60 C401.77,376.56 403.62,376.52 405.43,376.48 C407.24,376.44 409.06,376.41 410.87,376.37 C412.68,376.33 414.49,376.29 416.30,376.25 C418.11,376.21 419.92,376.17 421.73,376.13 C423.54,376.09 425.36,376.06 427.17,376.02 C428.98,375.98 431.57,375.09 432.60,375.90 C433.50,376.61 433.27,378.56 433.50,380.00 C433.75,381.58 433.83,383.33 434.00,385.00 C434.17,386.67 434.30,388.21 434.50,390.00 C434.73,392.09 435.03,394.53 435.30,396.80 C435.57,399.07 435.91,401.49 436.10,403.60 C436.26,405.43 436.30,407.03 436.40,408.75 C436.50,410.46 436.60,412.18 436.70,413.89 C436.80,415.61 436.90,417.32 437.00,419.04 C437.10,420.75 437.20,422.47 437.30,424.18 C437.40,425.90 437.50,427.61 437.60,429.33 C437.70,431.04 437.80,432.76 437.90,434.47 C438.00,436.19 438.10,437.90 438.20,439.62 C438.30,441.33 438.40,443.05 438.50,444.76 C438.60,446.48 438.70,448.19 438.80,449.91 C438.90,451.62 439.00,453.34 439.10,455.05 C439.20,456.77 439.12,460.17 439.40,460.20 C439.72,460.23 440.50,455.83 441.05,453.65 C441.60,451.47 442.22,449.15 442.70,447.10 C443.12,445.31 443.43,443.73 443.80,442.05 C444.17,440.37 444.50,438.69 444.90,437.00 C445.30,435.28 445.51,433.09 446.20,431.80 C446.70,430.86 447.54,429.57 448.10,429.70 C449.04,429.92 449.62,437.31 450.30,437.30 C450.91,437.29 451.29,432.56 452.00,431.00 C452.47,429.96 452.94,429.02 453.60,428.60 C454.12,428.26 454.81,428.14 455.40,428.30 C456.12,428.49 456.77,429.37 457.50,430.00 C458.33,430.72 458.97,431.96 460.10,432.40 C461.48,432.94 463.70,432.46 465.40,432.40 C466.99,432.35 468.43,432.12 470.00,432.10 C471.63,432.08 473.33,432.23 475.00,432.30 C476.67,432.37 478.33,432.48 480.00,432.50 C481.67,432.52 483.33,432.47 485.00,432.45 C486.67,432.43 488.40,432.46 490.00,432.40 C491.49,432.34 492.91,432.53 494.30,432.10 C495.82,431.63 497.26,430.36 498.73,429.49 C500.21,428.62 501.69,427.75 503.17,426.88 C504.64,426.01 506.12,425.14 507.60,424.27 C509.08,423.40 510.56,422.53 512.03,421.66 C513.51,420.79 514.99,419.91 516.47,419.04 C517.94,418.17 519.42,417.30 520.90,416.43 C522.38,415.56 523.86,414.69 525.33,413.82 C526.81,412.95 528.29,412.08 529.77,411.21 C531.24,410.34 532.59,408.99 534.20,408.60 C535.83,408.20 537.71,408.78 539.47,408.87 C541.22,408.96 542.98,409.04 544.73,409.13 C546.49,409.22 548.24,409.31 550.00,409.40 C551.76,409.49 553.51,409.58 555.27,409.67 C557.02,409.76 558.78,409.84 560.53,409.93 C562.29,410.02 564.06,410.09 565.80,410.20 C567.52,410.31 569.22,410.45 570.92,410.57 C572.63,410.70 574.34,410.82 576.05,410.95 C577.76,411.08 579.47,411.20 581.17,411.32 C582.88,411.45 584.56,411.53 586.30,411.70 C588.13,411.88 590.03,412.17 591.90,412.40 C593.77,412.63 595.80,413.22 597.50,413.10 C598.96,412.99 600.76,412.94 601.50,412.00 C602.37,410.90 601.61,408.22 601.67,406.33 C601.72,404.44 601.78,402.56 601.83,400.67 C601.89,398.78 601.90,396.83 602.00,395.00 C602.09,393.28 602.25,391.67 602.38,390.00 C602.50,388.33 602.63,386.67 602.75,385.00 C602.88,383.33 603.00,381.67 603.12,380.00 C603.25,378.33 603.16,376.67 603.50,375.00 C603.86,373.22 604.70,371.43 605.30,369.65 C605.90,367.87 606.57,364.28 607.10,364.30 C607.65,364.32 608.07,368.20 608.55,370.15 C609.03,372.10 609.52,374.13 610.00,376.00 C610.45,377.73 610.90,379.33 611.35,381.00 C611.80,382.67 612.28,386.01 612.70,386.00 C613.12,385.99 613.47,382.67 613.85,381.00 C614.23,379.33 614.49,377.67 615.00,376.00 C615.53,374.24 616.26,370.73 617.00,370.70 C617.76,370.67 618.60,374.27 619.50,376.00 C620.40,377.73 621.36,381.11 622.40,381.10 C623.63,381.09 624.86,374.32 626.40,373.90 C627.50,373.60 628.74,375.25 630.00,376.00 C631.40,376.84 632.91,378.73 634.40,378.70 C635.97,378.67 637.54,375.72 639.20,375.50 C640.75,375.29 642.34,376.86 644.00,377.10 C645.71,377.34 647.56,376.97 649.33,376.90 C651.11,376.83 652.89,376.77 654.67,376.70 C656.44,376.63 658.25,376.54 660.00,376.50 C661.69,376.46 663.33,376.47 665.00,376.45 C666.67,376.43 668.33,376.42 670.00,376.40 C671.67,376.38 673.33,376.37 675.00,376.35 C676.67,376.33 679.17,376.31 680.00,376.30" fill="none" stroke="#F00000" stroke-width="2.3" stroke-linejoin="round" stroke-linecap="round" stroke-dasharray="3.0 6.8" stroke-dashoffset="3.9"/>
<ellipse cx="440.5" cy="68" rx="21.4" ry="36.5" transform="rotate(2.5 440.5 68)" fill="none" stroke="#151515" stroke-width="2" stroke-dasharray="4.1 3.1"/>
<ellipse cx="539.6" cy="58" rx="70.6" ry="33.4" fill="none" stroke="#151515" stroke-width="2" stroke-dasharray="4.1 3.1"/>
<ellipse cx="445.6" cy="442.8" rx="28" ry="25" fill="none" stroke="#151515" stroke-width="2" stroke-dasharray="4.1 3.1"/>
<ellipse cx="623.3" cy="373.7" rx="40.5" ry="17.1" fill="none" stroke="#151515" stroke-width="2" stroke-dasharray="4.1 3.1"/>
<line x1="449.6" y1="100.5" x2="483.6" y2="132.1" stroke="#333" stroke-width="0.9"/><polygon points="489.8,137.9 479.7,133.4 484.6,128.1" fill="#111"/>
<line x1="530.4" y1="92.6" x2="502.2" y2="131.0" stroke="#333" stroke-width="0.9"/><polygon points="497.2,137.9 500.5,127.3 506.3,131.6" fill="#111"/>
<line x1="473.5" y1="445.4" x2="511.2" y2="454.0" stroke="#333" stroke-width="0.9"/><polygon points="519.0,455.8 508.5,457.0 510.0,450.2" fill="#111"/>
<line x1="649.6" y1="387.0" x2="626.0" y2="436.9" stroke="#333" stroke-width="0.9"/><polygon points="622.4,444.6 623.6,433.6 630.1,436.6" fill="#111"/>
<line x1="82.3" y1="13.9" x2="82.3" y2="226" stroke="#000" stroke-width="2"/>
<line x1="81.3" y1="218.3" x2="680" y2="218.3" stroke="#000" stroke-width="2"/>
<line x1="82.3" y1="275.7" x2="82.3" y2="488" stroke="#000" stroke-width="2"/>
<line x1="81.3" y1="479.6" x2="680" y2="479.6" stroke="#000" stroke-width="2"/>
<line x1="78.1" y1="218.3" x2="82.3" y2="218.3" stroke="#000" stroke-width="2"/>
<line x1="73.8" y1="192.8" x2="82.3" y2="192.8" stroke="#000" stroke-width="2"/>
<text x="67.5" y="198.2" font-size="18.3" font-weight="bold" text-anchor="end">0</text>
<line x1="78.1" y1="167.3" x2="82.3" y2="167.3" stroke="#000" stroke-width="2"/>
<line x1="73.8" y1="141.8" x2="82.3" y2="141.8" stroke="#000" stroke-width="2"/>
<text x="67.5" y="147.2" font-size="18.3" font-weight="bold" text-anchor="end">4</text>
<line x1="78.1" y1="116.3" x2="82.3" y2="116.3" stroke="#000" stroke-width="2"/>
<line x1="73.8" y1="90.8" x2="82.3" y2="90.8" stroke="#000" stroke-width="2"/>
<text x="67.5" y="96.2" font-size="18.3" font-weight="bold" text-anchor="end">8</text>
<line x1="78.1" y1="65.3" x2="82.3" y2="65.3" stroke="#000" stroke-width="2"/>
<line x1="73.8" y1="39.8" x2="82.3" y2="39.8" stroke="#000" stroke-width="2"/>
<text x="67.5" y="45.2" font-size="18.3" font-weight="bold" text-anchor="end">12</text>
<line x1="78.1" y1="14.3" x2="82.3" y2="14.3" stroke="#000" stroke-width="2"/>
<line x1="73.8" y1="479.8" x2="82.3" y2="479.8" stroke="#000" stroke-width="2"/>
<text x="67.5" y="485.2" font-size="18.3" font-weight="bold" text-anchor="end">-0.06</text>
<line x1="78.1" y1="462.8" x2="82.3" y2="462.8" stroke="#000" stroke-width="2"/>
<line x1="73.8" y1="445.8" x2="82.3" y2="445.8" stroke="#000" stroke-width="2"/>
<text x="67.5" y="451.2" font-size="18.3" font-weight="bold" text-anchor="end">-0.04</text>
<line x1="78.1" y1="428.8" x2="82.3" y2="428.8" stroke="#000" stroke-width="2"/>
<line x1="73.8" y1="411.8" x2="82.3" y2="411.8" stroke="#000" stroke-width="2"/>
<text x="67.5" y="417.2" font-size="18.3" font-weight="bold" text-anchor="end">-0.02</text>
<line x1="78.1" y1="394.8" x2="82.3" y2="394.8" stroke="#000" stroke-width="2"/>
<line x1="73.8" y1="377.8" x2="82.3" y2="377.8" stroke="#000" stroke-width="2"/>
<text x="67.5" y="383.2" font-size="18.3" font-weight="bold" text-anchor="end">0.00</text>
<line x1="78.1" y1="360.8" x2="82.3" y2="360.8" stroke="#000" stroke-width="2"/>
<line x1="73.8" y1="343.8" x2="82.3" y2="343.8" stroke="#000" stroke-width="2"/>
<text x="67.5" y="349.2" font-size="18.3" font-weight="bold" text-anchor="end">0.02</text>
<line x1="78.1" y1="326.8" x2="82.3" y2="326.8" stroke="#000" stroke-width="2"/>
<line x1="73.8" y1="309.8" x2="82.3" y2="309.8" stroke="#000" stroke-width="2"/>
<text x="67.5" y="315.2" font-size="18.3" font-weight="bold" text-anchor="end">0.04</text>
<line x1="78.1" y1="292.8" x2="82.3" y2="292.8" stroke="#000" stroke-width="2"/>
<line x1="73.8" y1="275.8" x2="82.3" y2="275.8" stroke="#000" stroke-width="2"/>
<text x="67.5" y="281.2" font-size="18.3" font-weight="bold" text-anchor="end">0.06</text>
<line x1="82.3" y1="218.3" x2="82.3" y2="226.8" stroke="#000" stroke-width="2"/>
<text x="82.3" y="247.1" font-size="18.4" font-weight="bold" text-anchor="middle">0</text>
<line x1="148.7" y1="218.3" x2="148.7" y2="222.5" stroke="#000" stroke-width="2"/>
<line x1="215.1" y1="218.3" x2="215.1" y2="226.8" stroke="#000" stroke-width="2"/>
<text x="215.1" y="247.1" font-size="18.4" font-weight="bold" text-anchor="middle">5</text>
<line x1="281.4" y1="218.3" x2="281.4" y2="222.5" stroke="#000" stroke-width="2"/>
<line x1="347.8" y1="218.3" x2="347.8" y2="226.8" stroke="#000" stroke-width="2"/>
<text x="347.8" y="247.1" font-size="18.4" font-weight="bold" text-anchor="middle">10</text>
<line x1="414.2" y1="218.3" x2="414.2" y2="222.5" stroke="#000" stroke-width="2"/>
<line x1="480.6" y1="218.3" x2="480.6" y2="226.8" stroke="#000" stroke-width="2"/>
<text x="480.6" y="247.1" font-size="18.4" font-weight="bold" text-anchor="middle">15</text>
<line x1="546.9" y1="218.3" x2="546.9" y2="222.5" stroke="#000" stroke-width="2"/>
<line x1="613.3" y1="218.3" x2="613.3" y2="226.8" stroke="#000" stroke-width="2"/>
<text x="613.3" y="247.1" font-size="18.4" font-weight="bold" text-anchor="middle">20</text>
<line x1="679.7" y1="218.3" x2="679.7" y2="222.5" stroke="#000" stroke-width="2"/>
<line x1="82.3" y1="479.6" x2="82.3" y2="488.1" stroke="#000" stroke-width="2"/>
<text x="82.3" y="510.2" font-size="20.4" font-weight="bold" text-anchor="middle">0</text>
<line x1="148.7" y1="479.6" x2="148.7" y2="483.8" stroke="#000" stroke-width="2"/>
<line x1="215.1" y1="479.6" x2="215.1" y2="488.1" stroke="#000" stroke-width="2"/>
<text x="215.1" y="510.2" font-size="20.4" font-weight="bold" text-anchor="middle">5</text>
<line x1="281.4" y1="479.6" x2="281.4" y2="483.8" stroke="#000" stroke-width="2"/>
<line x1="347.8" y1="479.6" x2="347.8" y2="488.1" stroke="#000" stroke-width="2"/>
<text x="347.8" y="510.2" font-size="20.4" font-weight="bold" text-anchor="middle">10</text>
<line x1="414.2" y1="479.6" x2="414.2" y2="483.8" stroke="#000" stroke-width="2"/>
<line x1="480.6" y1="479.6" x2="480.6" y2="488.1" stroke="#000" stroke-width="2"/>
<text x="480.6" y="510.2" font-size="20.4" font-weight="bold" text-anchor="middle">15</text>
<line x1="546.9" y1="479.6" x2="546.9" y2="483.8" stroke="#000" stroke-width="2"/>
<line x1="613.3" y1="479.6" x2="613.3" y2="488.1" stroke="#000" stroke-width="2"/>
<text x="613.3" y="510.2" font-size="20.4" font-weight="bold" text-anchor="middle">20</text>
<line x1="679.7" y1="479.6" x2="679.7" y2="483.8" stroke="#000" stroke-width="2"/>
<text transform="translate(38.3,116) rotate(-90)" font-size="22.4" font-weight="bold" text-anchor="middle">System pressure (MPa)</text>
<text transform="translate(19.9,378) rotate(-90)" font-size="22.4" font-weight="bold" text-anchor="middle">Cylinder velocity (m/s)</text>
<text x="381" y="540.5" font-size="24.8" font-weight="bold" text-anchor="middle">Time (s)</text>
<text x="610.3" y="39.7" font-size="20.2" font-weight="bold">11 MPa</text>
<line x1="128.7" y1="10.3" x2="165.2" y2="10.3" stroke="#0000F0" stroke-width="2.4" stroke-linecap="round"/><line x1="128.7" y1="33.9" x2="162.5" y2="33.9" stroke="#EE3A3A" stroke-width="2.4" stroke-linecap="round" stroke-dasharray="2.9 7.05"/><text x="170.5" y="16.9" font-size="18.7" font-weight="bold">With MELS control</text><text x="170.5" y="40.8" font-size="18.7" font-weight="bold">With ELS and pressure control</text>
<line x1="376.2" y1="299.5" x2="412.7" y2="299.5" stroke="#0000F0" stroke-width="2.4" stroke-linecap="round"/><line x1="376.2" y1="323.1" x2="410" y2="323.1" stroke="#F00000" stroke-width="2.4" stroke-linecap="round" stroke-dasharray="2.9 7.05"/><text x="422.5" y="306.1" font-size="18.7" font-weight="bold">With MELS control</text><text x="422.5" y="330.0" font-size="18.7" font-weight="bold">With ELS and pressure control</text>
<text x="440.5" y="154.2" font-size="16.8" font-style="italic" fill="#333">Pressure oscillation</text>
<text x="521.3" y="461.7" font-size="16.8" font-style="italic" fill="#333">Velocity oscillation</text>
</svg></body></html>
